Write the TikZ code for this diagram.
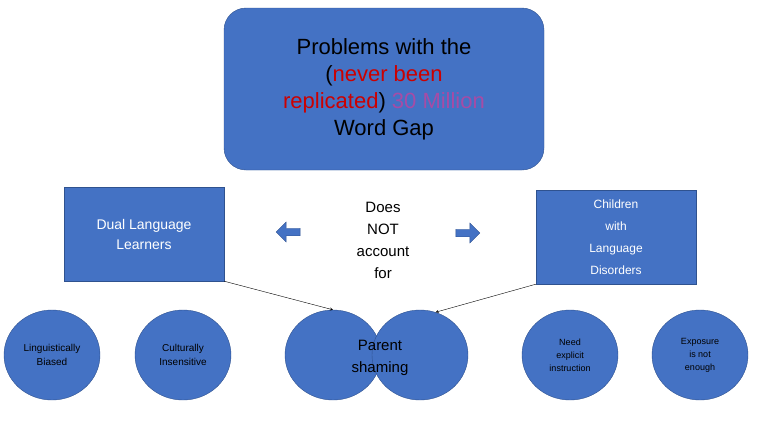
\documentclass[tikz,border=0pt]{standalone}
\usepackage{fontspec}
\setmainfont{Liberation Sans}
\usetikzlibrary{shapes.arrows,shapes.geometric,positioning}
\definecolor{ppblue}{HTML}{4472C4}
\definecolor{ppedge}{HTML}{2F528F}
\tikzstyle{box}=[draw=ppedge,fill=ppblue,rectangle,align=center,text=white,minimum width=160pt,minimum height=94pt]
\tikzstyle{blob}=[draw=ppedge,fill=ppblue,ellipse,align=center,minimum width=96pt,minimum height=90pt,inner sep=0pt]
\tikzstyle{fat}=[draw=ppedge,fill=ppblue,single arrow,minimum height=24pt,minimum width=20pt,single arrow head extend=2pt,inner sep=1pt]
\tikzstyle{lead}=[draw,thin,->,>=stealth]
\begin{document}
\begin{tikzpicture}[x=1pt,y=-1pt]
\useasboundingbox (0,0) rectangle (768,432);
	\node[draw=ppedge,fill=ppblue,rounded corners=22pt,minimum width=320pt,minimum height=162pt,align=center,font=\fontsize{22}{27}\selectfont] (title) at (384,89)
	{Problems with the\\(\textcolor{red!80!black}{never been}\\\textcolor{red!80!black}{replicated}) \textcolor{violet!70}{30 Million}\\Word Gap};
	
	\node[box,font=\fontsize{14}{20}\selectfont] (dll) at (144,234) {Dual Language\\Learners};
	\node[box,font=\fontsize{12}{22}\selectfont] (cld) at (616,237) {Children\\with\\Language\\Disorders};
	\node[align=center,font=\fontsize{15}{22}\selectfont] (dna) at (383,240) {Does\\NOT\\account\\for};
	
	\node[fat,shape border rotate=180] (al) at (290,232) {};
	\node[fat] (ar) at (466,233) {};
	
	\node[blob,font=\fontsize{10}{14}\selectfont] (lb) at (52,355) {Linguistically\\Biased};
	\node[blob,font=\fontsize{10}{14}\selectfont] (ci) at (183,355) {Culturally\\Insensitive};
	\node[blob] (ps1) at (333,355) {};
	\node[blob] (ps2) at (420,355) {};
	\node[align=center,font=\fontsize{15}{22}\selectfont] (ps) at (380,358) {Parent\\shaming};
	\node[blob,font=\fontsize{9}{13}\selectfont] (ne) at (570,355) {Need\\explicit\\instruction};
	\node[blob,font=\fontsize{9}{13}\selectfont] (en) at (700,355) {Exposure\\is not\\enough};
	
	\path[lead] (dll.south east) -- (ps1.north);
	\path[lead] (cld.south west) -- (ps2.70);
\end{tikzpicture}
\end{document}
